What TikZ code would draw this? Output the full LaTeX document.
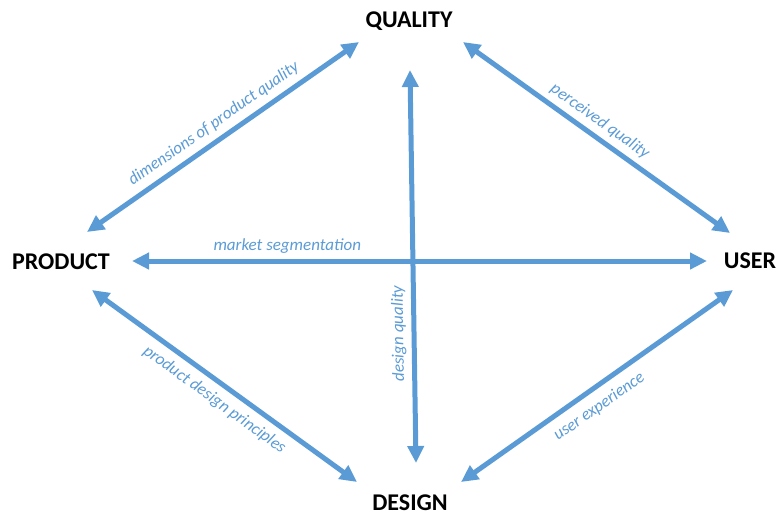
\documentclass[tikz,border=0pt]{standalone}
\usepackage{fontspec}
\setmainfont{Carlito}
\usetikzlibrary{arrows.meta}

\definecolor{linkblue}{HTML}{5B9BD5}

\tikzset{
    concept/.style={font=\fontsize{24}{28}\selectfont\bfseries, text height=15.5pt, text depth=0pt, inner sep=0pt},
    link/.style={draw=linkblue, line width=5pt, {Triangle[length=17pt,width=16pt]}-{Triangle[length=17pt,width=16pt]}},
    tag/.style={font=\fontsize{17}{20}\selectfont\itshape, text=linkblue, sloped}
}

\begin{document}
\begin{tikzpicture}[x=1pt, y=-1pt]

\useasboundingbox (0,0) rectangle (778,515);

% the four corners
\node[concept] (quality) at (409,20) {QUALITY};
\node[concept] (product) at (61,262) {PRODUCT};
\node[concept] (user) at (750,261) {USER};
\node[concept] (design) at (410,503) {DESIGN};

% links, all drawn left to right (or upwards) so the tags stay upright
\draw[link] ([shift={(26,-30)}]product.center) -- ([shift={(-50,22)}]quality.center)
    node[tag, midway, above=3pt] {dimensions of product quality};

\draw[link] ([shift={(54,22)}]quality.center) -- ([shift={(-20,-28)}]user.center)
    node[tag, pos=0.48, above=2pt] {perceived quality};

\draw[link] ([shift={(71,-1)}]product.center) -- ([shift={(-43,0)}]user.center)
    node[tag, pos=0.27, above=2pt] {market segmentation};

% vertical one reads bottom to top
\draw[link] ([shift={(6,-40)}]design.center) -- ([shift={(1,50)}]quality.center)
    node[tag, allow upside down, pos=0.33, above=2pt] {design quality};

\draw[link] ([shift={(31,28)}]product.center) -- ([shift={(-53,-21)}]design.center)
    node[tag, midway, below=4pt] {product design principles};

\draw[link] ([shift={(51,-21)}]design.center) -- ([shift={(-17,29)}]user.center)
    node[tag, pos=0.47, below=5pt] {user experience};

\end{tikzpicture}
\end{document}
